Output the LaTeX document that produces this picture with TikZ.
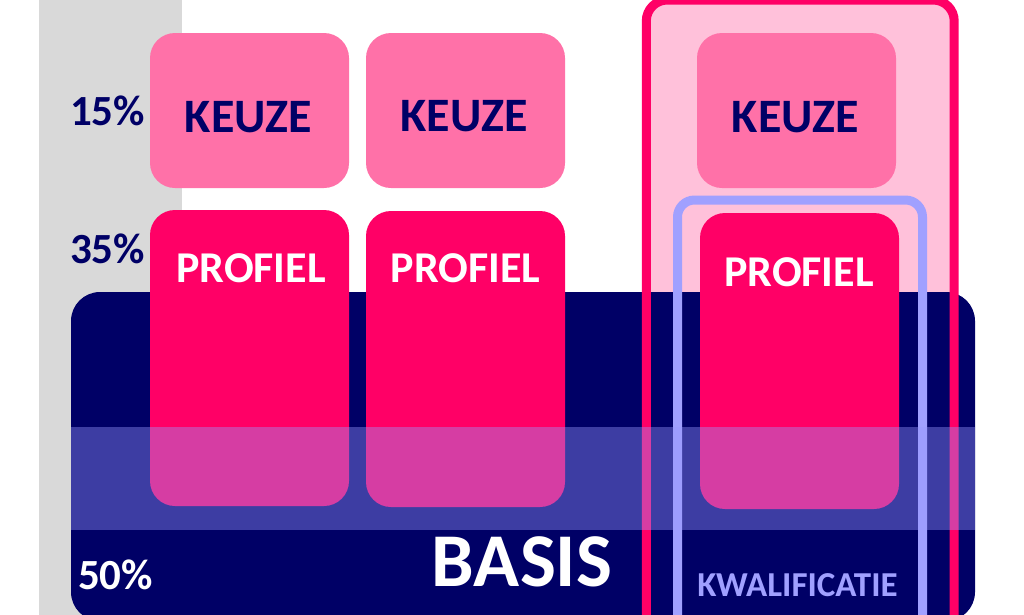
\documentclass[tikz,border=0pt]{standalone}
\usepackage{fontspec}
\setmainfont{Carlito}
\definecolor{navy}{HTML}{000066}
\definecolor{hotpink}{HTML}{FF0066}
\definecolor{keuze}{HTML}{FF71A8}
\definecolor{lightpink}{HTML}{FFC1DA}
\definecolor{greystrip}{HTML}{D9D9D9}
\definecolor{lav}{HTML}{A0A0FF}
\definecolor{bandcol}{RGB}{153,153,255}
\begin{document}
\begin{tikzpicture}[x=1pt,y=-1pt,
  box/.style={rectangle, inner sep=0pt, rounded corners=25pt, minimum width=199pt},
  keuzebox/.style={box, fill=keuze, minimum height=155pt},
  profielbox/.style={box, fill=hotpink, minimum height=296pt},
  lbl/.style={anchor=base, inner sep=0pt, font=\bfseries\fontsize{#1}{#1}\selectfont}]
\useasboundingbox (0,0) rectangle (1024,614);
\clip (0,0) rectangle (1024,614);
% grey strip
\fill[greystrip] (39,-5) rectangle (182,620);
% qualification frame fill
\node (qfill) [rectangle, inner sep=0pt, fill=lightpink, rounded corners=21pt,
  minimum width=307.5pt, minimum height=680pt] at (800.25,340) {};
% basis
\node (basis) [rectangle, inner sep=0pt, fill=navy, rounded corners=29pt,
  minimum width=904pt, minimum height=329pt] at (523,456.5) {};
% keuze boxes
\node (k1) [keuzebox] at (249.5,110.5) {};
\node (k2) [keuzebox] at (465.5,110.5) {};
\node (k3) [keuzebox] at (796.5,110.5) {};
% profiel boxes
\node (p1) [profielbox] at (249.5,358) {};
\node (p2) [profielbox] at (465.5,359) {};
\node (p3) [profielbox] at (799.5,361) {};
% qualification frame stroke
\draw[hotpink, line width=9pt, rounded corners=21pt]
  (qfill.south west) -- (qfill.north west |- 0,0) -- (qfill.north east |- 0,0) -- (qfill.south east);
% kwalificatie frame
\draw[lav, line width=9pt, rounded corners=17pt]
  (677.5,660) -- (677.5,200) -- (922.5,200) -- (922.5,660);
% translucent band
\fill[bandcol, fill opacity=0.4] (71,427) rectangle (975,530);
% texts
\node (t15) [lbl=43, text=navy] at (107.5,125) {15\%};
\node (t35) [lbl=43, text=navy] at (107.5,263) {35\%};
\node (t50) [lbl=43, text=white] at (115.5,589) {50\%};
\node (tk1) [lbl=48, text=navy] at (248.5,132) {KEUZE};
\node (tk2) [lbl=48, text=navy] at (464,131.5) {KEUZE};
\node (tk3) [lbl=48, text=navy] at (795.5,132) {KEUZE};
\node (tp1) [lbl=44, text=white] at (251,282) {PROFIEL};
\node (tp2) [lbl=44, text=white] at (465.5,282) {PROFIEL};
\node (tp3) [lbl=44, text=white] at (799,286) {PROFIEL};
\node (tb) [lbl=76, text=white] at (522,586) {BASIS};
\node (tq) [lbl=35, text=lav] at (797.5,596) {KWALIFICATIE};
\end{tikzpicture}
\end{document}
